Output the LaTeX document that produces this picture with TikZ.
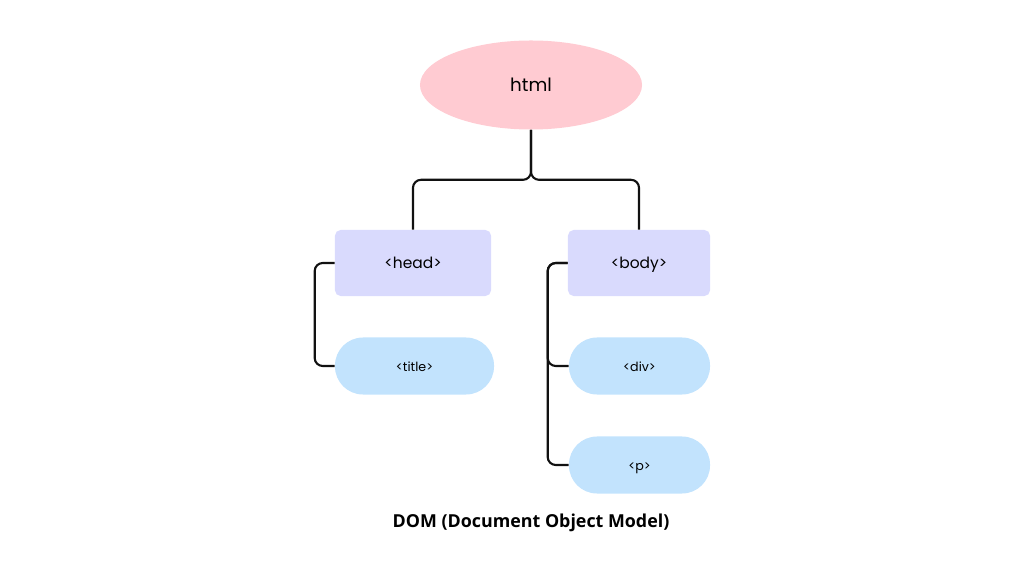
\documentclass[tikz,border=0pt]{standalone}
\usepackage{fontspec}
\setmainfont{Poppins}
\newfontfamily\capfont{Open Sans}
\usepackage{tikz}
\usetikzlibrary{shapes.geometric}
\definecolor{ppink}{HTML}{FFCBD2}
\definecolor{plav}{HTML}{D9DAFD}
\definecolor{psky}{HTML}{C2E3FD}
\definecolor{dline}{HTML}{111111}
\tikzset{
  root/.style={ellipse,fill=ppink,minimum width=5.55cm,minimum height=2.225cm,inner sep=0pt,
               font=\fontsize{13}{15}\selectfont},
  tagbox/.style={fill=plav,rounded corners=4pt,minimum height=1.65cm,inner sep=0pt,
                 text height=1.6ex,text depth=0.2ex,font=\fontsize{11}{13}\selectfont},
  leaf/.style={fill=psky,rounded corners=0.7cm,minimum height=1.425cm,minimum width=3.525cm,inner sep=0pt,
               text height=1.6ex,text depth=0.2ex,font=\fontsize{9}{11}\selectfont},
  conn/.style={draw=dline,line width=1.5pt,rounded corners=0.2cm},
}
\begin{document}
\begin{tikzpicture}[x=0.025cm,y=-0.025cm]
\useasboundingbox (0,0) rectangle (1024,576);
% root
\node[root] (html) at (531,85) {html};
% second level
\node[tagbox,minimum width=3.9cm] (head) at (413,263) {<head>};
\node[tagbox,minimum width=3.55cm] (body) at (639,263) {<body>};
% leaves
\node[leaf,minimum width=3.975cm] (title) at (414.5,366) {<title>};
\node[leaf] (div) at (639.5,366) {<div>};
\node[leaf] (p) at (639.5,465) {<p>};
% links
\draw[conn] (html.south) -- ++(0,50) -| (head.north);
\draw[conn] (html.south) -- ++(0,50) -| (body.north);
\draw[conn] (head.west) -- ++(-20,0) |- (title.west);
\draw[conn] (body.west) -- ++(-20,0) |- (div.west);
\draw[conn] (body.west) -- ++(-20,0) |- (p.west);
% caption
\node[font=\capfont\bfseries\fontsize{12.7}{15}\selectfont] (caption) at (531,523) {DOM (Document Object Model)};
\end{tikzpicture}
\end{document}
